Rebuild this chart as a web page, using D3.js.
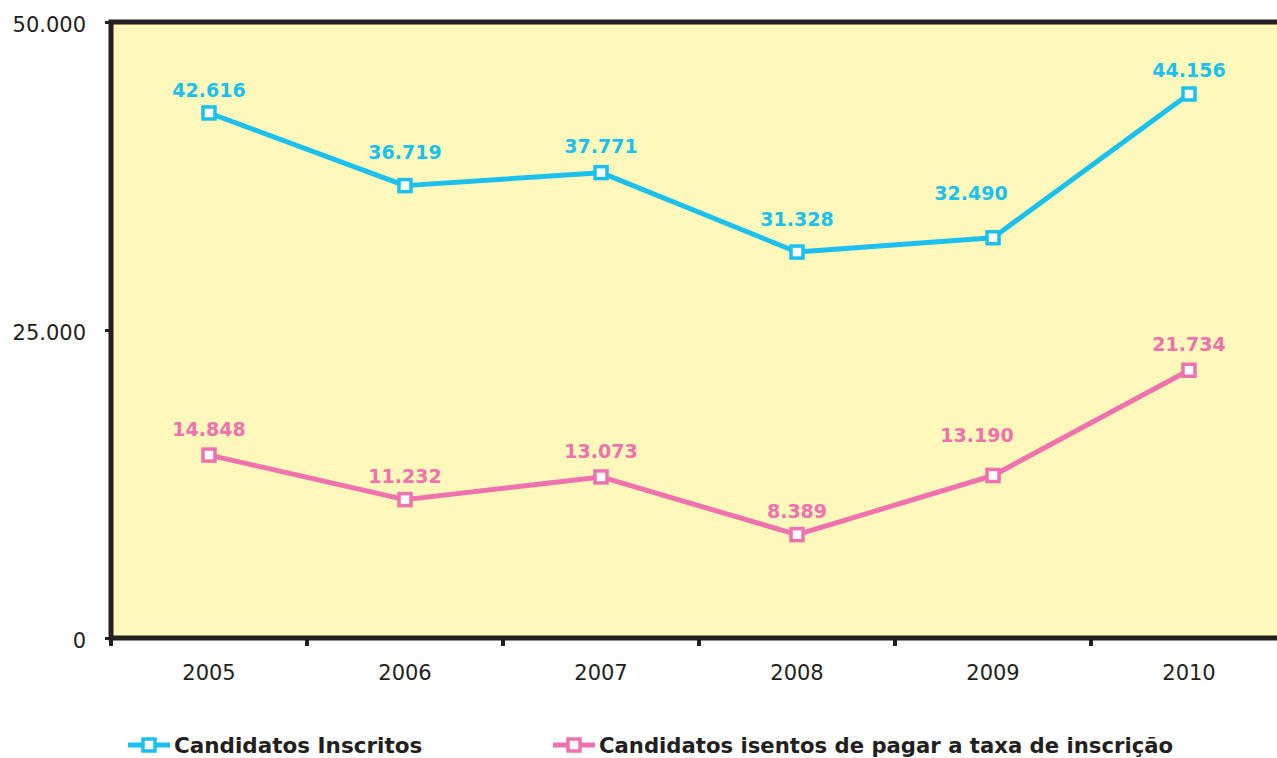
<!DOCTYPE html>
<html>
<head>
<meta charset="utf-8">
<script src="https://cdn.jsdelivr.net/npm/d3@7"></script>
<style>
  body { margin: 0; background: #fff; }
  svg text { font-family: "DejaVu Sans", Verdana, sans-serif; }
</style>
</head>
<body>
<svg id="canvas"></svg>
<script>
let width = 1277;
let height = 758;

const years = ['2005', '2006', '2007', '2008', '2009', '2010'];
const inscritos = [42616, 36719, 37771, 31328, 32490, 44156];
const isentos = [14848, 11232, 13073, 8389, 13190, 21734];
const yTicks = [0, 25000, 50000];

const seriesNames = ['Candidatos Inscritos', 'Candidatos isentos de pagar a taxa de inscrição'];
const cyan = '#1bc0ee';
const pink = '#ef71ae';

// label placement (offsets from the point, px)
const inscritosLabelDx = [0, 0, 0, 0, -22, 0];
const inscritosLabelDy = [-16, -27, -20, -26, -38, -17];
const isentosLabelDx = [0, 0, 0, 0, -16, 0];
const isentosLabelDy = [-19, -17, -19, -17, -33, -19];

let plotLeft = 111, plotTop = 22, plotBottom = 638, plotRight = 1287;

let canvas = d3.select('#canvas').attr('width', width).attr('height', height);

let xScale = d3.scaleBand().domain(years).range([plotLeft, plotRight]);
let yScale = d3.scaleLinear().domain([0, 50000]).range([plotBottom, plotTop]);

let fmt = (v) => d3.format(',')(v).replace(/,/g, '.');

// plot background
canvas.append('rect')
  .attr('x', plotLeft).attr('y', plotTop)
  .attr('width', plotRight - plotLeft).attr('height', plotBottom - plotTop)
  .attr('fill', '#fef8bb');

// y axis
let yAxis = d3.axisLeft(yScale).tickValues(yTicks).tickSize(6).tickPadding(19).tickFormat(fmt);
let gy = canvas.append('g').attr('transform', `translate(${plotLeft}, 0)`).call(yAxis);
gy.select('.domain').remove();
gy.selectAll('line').attr('stroke', '#231f20').attr('stroke-width', 3);
gy.selectAll('text').attr('font-size', 21).attr('fill', '#231f20').attr('dy', '0.45em')
  .style('font-family', '"DejaVu Sans", Verdana, sans-serif');

// x axis (ticks at category boundaries)
let gx = canvas.append('g').attr('transform', `translate(0, ${plotBottom})`);
gx.selectAll('line')
  .data(years)
  .enter()
  .append('line')
  .attr('x1', (d) => xScale(d)).attr('x2', (d) => xScale(d))
  .attr('y1', 0).attr('y2', 8)
  .attr('stroke', '#231f20').attr('stroke-width', 4);
gx.selectAll('text')
  .data(years)
  .enter()
  .append('text')
  .attr('x', (d) => xScale(d) + xScale.bandwidth() / 2)
  .attr('y', 42)
  .attr('text-anchor', 'middle')
  .attr('font-size', 21)
  .attr('fill', '#231f20')
  .text((d) => d);

// frame
canvas.append('path')
  .attr('d', `M${plotRight},${plotTop}H${plotLeft}V${plotBottom}H${plotRight}`)
  .attr('fill', 'none')
  .attr('stroke', '#231f20')
  .attr('stroke-width', 5);

let cx = (i) => xScale(years[i]) + xScale.bandwidth() / 2;

let drawSeries = (values, color, dxs, dys) => {
  let line = d3.line().x((d, i) => cx(i)).y((d) => yScale(d));
  canvas.append('path')
    .datum(values)
    .attr('d', line)
    .attr('fill', 'none')
    .attr('stroke', color)
    .attr('stroke-width', 5)
    .attr('stroke-linejoin', 'round');

  canvas.append('g').selectAll('rect')
    .data(values)
    .enter()
    .append('rect')
    .attr('x', (d, i) => cx(i) - 6)
    .attr('y', (d) => yScale(d) - 6)
    .attr('width', 12).attr('height', 12)
    .attr('fill', '#fff')
    .attr('stroke', color)
    .attr('stroke-width', 3.5);

  canvas.append('g').selectAll('text')
    .data(values)
    .enter()
    .append('text')
    .attr('x', (d, i) => cx(i) + dxs[i])
    .attr('y', (d, i) => yScale(d) + dys[i])
    .attr('text-anchor', 'middle')
    .attr('font-size', 19)
    .attr('font-weight', 'bold')
    .attr('fill', color)
    .text((d) => fmt(d));
};

drawSeries(inscritos, cyan, inscritosLabelDx, inscritosLabelDy);
drawSeries(isentos, pink, isentosLabelDx, isentosLabelDy);

// legend
let legendX = [128, 553];
let legendColors = [cyan, pink];
let legendSize = [21.5, 21.2];
seriesNames.forEach((name, i) => {
  let g = canvas.append('g').attr('transform', `translate(${legendX[i]}, 745)`);
  g.append('line').attr('x1', 0).attr('x2', 42).attr('y1', 0).attr('y2', 0)
    .attr('stroke', legendColors[i]).attr('stroke-width', 5);
  g.append('rect').attr('x', 15).attr('y', -6).attr('width', 12).attr('height', 12)
    .attr('fill', '#fff').attr('stroke', legendColors[i]).attr('stroke-width', 3.5);
  g.append('text').attr('x', 46).attr('y', 8)
    .attr('font-size', legendSize[i]).attr('font-weight', 'bold').attr('fill', '#231f20')
    .text(name);
});
</script>
</body>
</html>
